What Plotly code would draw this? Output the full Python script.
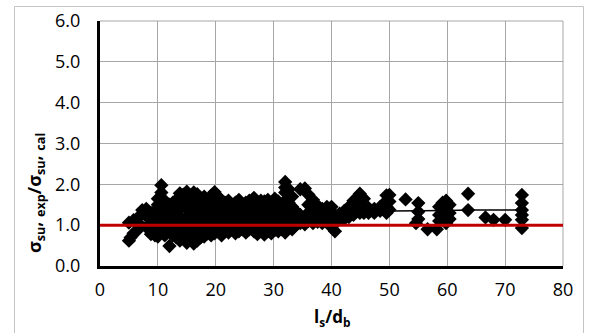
import plotly.graph_objects as go

# ---- data ----
ls_db = [
    5.0, 5.0,
    5.3,
    5.8, 5.8,
    6.5,
    7.0, 7.0,
    7.3,
    8.0, 8.0, 8.0,
    8.8, 8.8, 8.8,
    9.5, 9.5, 9.5, 9.5,
    10.0, 10.0, 10.0, 10.0, 10.0, 10.0,
    10.6, 10.6, 10.6, 10.6, 10.6, 10.6,
    11.2, 11.2, 11.2, 11.2, 11.2,
    12.0, 12.0, 12.0, 12.0, 12.0,
    12.6, 12.6, 12.6, 12.6, 12.6,
    13.2, 13.2, 13.2, 13.2, 13.2, 13.2,
    13.8, 13.8, 13.8, 13.8, 13.8, 13.8, 13.8,
    14.4, 14.4, 14.4, 14.4,
    15.0, 15.0, 15.0, 15.0, 15.0, 15.0, 15.0,
    15.6, 15.6, 15.6, 15.6, 15.6,
    16.2, 16.2, 16.2, 16.2, 16.2, 16.2, 16.2,
    16.8, 16.8, 16.8, 16.8, 16.8, 16.8,
    17.4, 17.4, 17.4, 17.4, 17.4,
    18.0, 18.0, 18.0, 18.0, 18.0, 18.0,
    18.6, 18.6, 18.6, 18.6,
    19.2, 19.2, 19.2, 19.2, 19.2, 19.2,
    19.8, 19.8, 19.8, 19.8, 19.8, 19.8,
    20.4, 20.4, 20.4, 20.4,
    21.0, 21.0, 21.0, 21.0, 21.0, 21.0,
    21.6, 21.6, 21.6, 21.6,
    22.2, 22.2, 22.2, 22.2, 22.2,
    22.8, 22.8, 22.8, 22.8,
    23.4, 23.4, 23.4, 23.4, 23.4,
    24.0, 24.0, 24.0, 24.0, 24.0,
    24.6, 24.6, 24.6, 24.6,
    25.2, 25.2, 25.2, 25.2, 25.2,
    25.8, 25.8, 25.8, 25.8, 25.8,
    26.6, 26.6, 26.6, 26.6, 26.6,
    27.2, 27.2, 27.2, 27.2, 27.2,
    27.8, 27.8, 27.8, 27.8, 27.8,
    28.4, 28.4, 28.4, 28.4, 28.4,
    29.0, 29.0, 29.0, 29.0, 29.0,
    29.6, 29.6, 29.6, 29.6, 29.6,
    30.2, 30.2, 30.2, 30.2, 30.2,
    30.8, 30.8, 30.8, 30.8, 30.8,
    31.4, 31.4, 31.4, 31.4,
    32.0, 32.0, 32.0, 32.0, 32.0, 32.0, 32.0, 32.0,
    32.6, 32.6, 32.6, 32.6, 32.6, 32.6,
    33.2, 33.2, 33.2, 33.2, 33.2,
    33.8, 33.8, 33.8,
    34.6, 34.6, 34.6,
    35.4, 35.4, 35.4,
    36.0, 36.0, 36.0, 36.0,
    36.8, 36.8, 36.8, 36.8,
    37.6, 37.6, 37.6,
    38.4, 38.4, 38.4,
    39.2, 39.2, 39.2,
    40.0, 40.0, 40.0, 40.0,
    40.6, 40.6, 40.6,
    41.4, 41.4,
    42.2, 42.2, 42.2,
    43.0, 43.0, 43.0,
    43.8, 43.8, 43.8,
    44.9, 44.9, 44.9, 44.9,
    45.6, 45.6, 45.6,
    46.4, 46.4,
    47.4, 47.4,
    48.4, 48.4,
    49.5, 49.5, 49.5, 49.5,
    50.0, 50.0, 50.0,
    52.8,
    54.6,
    55.0, 55.0, 55.0,
    56.6,
    58.2,
    58.6, 58.6, 58.6,
    59.2, 59.2, 59.2,
    59.8, 59.8, 59.8, 59.8,
    60.4, 60.4, 60.4,
    63.6, 63.6,
    66.6,
    68.0,
    70.0,
    72.9, 72.9, 72.9, 72.9, 72.9, 72.9,
]

ratio = [
    0.62, 1.06,
    0.70,
    0.80, 1.12,
    0.88,
    1.00, 1.25,
    1.37,
    0.95, 1.22, 1.40,
    0.78, 1.05, 1.30,
    0.75, 0.95, 1.15, 1.35,
    0.72, 0.90, 1.10, 1.30, 1.50, 1.65,
    1.98, 1.80, 1.62, 1.40, 1.15, 0.85,
    0.75, 0.95, 1.25, 1.45, 1.60,
    0.49, 0.90, 1.10, 1.30, 1.50,
    0.75, 1.00, 1.20, 1.40, 1.55,
    0.70, 0.85, 1.05, 1.25, 1.45, 1.62,
    0.62, 0.80, 1.00, 1.20, 1.40, 1.60, 1.78,
    0.90, 1.10, 1.50, 1.75,
    0.57, 0.75, 1.00, 1.20, 1.40, 1.60, 1.82,
    0.65, 0.85, 1.10, 1.30, 1.70,
    0.55, 0.72, 0.95, 1.15, 1.35, 1.50, 1.80,
    0.62, 0.80, 1.05, 1.25, 1.60, 1.76,
    0.70, 0.90, 1.30, 1.42, 1.65,
    0.72, 0.95, 1.15, 1.35, 1.50, 1.70,
    0.80, 1.05, 1.25, 1.60,
    0.75, 0.90, 1.10, 1.30, 1.45, 1.72,
    0.80, 1.00, 1.20, 1.40, 1.60, 1.81,
    0.90, 1.10, 1.30, 1.70,
    0.75, 0.85, 1.05, 1.25, 1.45, 1.60,
    0.95, 1.15, 1.35, 1.55,
    0.82, 1.00, 1.20, 1.40, 1.60,
    0.90, 1.10, 1.30, 1.50,
    0.80, 0.95, 1.15, 1.35, 1.55,
    0.85, 1.05, 1.25, 1.45, 1.62,
    0.90, 1.10, 1.30, 1.50,
    0.82, 1.00, 1.20, 1.40, 1.55,
    0.90, 1.10, 1.30, 1.50, 1.60,
    0.85, 1.05, 1.25, 1.45, 1.67,
    0.78, 0.95, 1.15, 1.35, 1.55,
    0.88, 1.08, 1.28, 1.48, 1.60,
    0.77, 0.98, 1.18, 1.38, 1.58,
    0.85, 1.05, 1.25, 1.45, 1.62,
    0.80, 0.95, 1.15, 1.35, 1.55,
    0.88, 1.08, 1.28, 1.48, 1.65,
    0.85, 1.00, 1.20, 1.40, 1.58,
    0.90, 1.10, 1.30, 1.50,
    0.82, 1.00, 1.20, 1.40, 1.60, 1.80, 1.92, 2.06,
    0.95, 1.15, 1.35, 1.55, 1.75, 1.88,
    0.90, 1.05, 1.25, 1.45, 1.70,
    1.00, 1.20, 1.35,
    1.05, 1.25, 1.88,
    1.02, 1.22, 1.90,
    1.10, 1.30, 1.50, 1.75,
    1.05, 1.25, 1.45, 1.62,
    1.08, 1.28, 1.48,
    1.05, 1.20, 1.40,
    1.10, 1.25, 1.45,
    0.95, 1.15, 1.30, 1.45,
    0.85, 1.05, 1.25,
    1.15, 1.28,
    1.15, 1.25, 1.35,
    1.20, 1.30, 1.45,
    1.25, 1.40, 1.60,
    1.30, 1.45, 1.62, 1.77,
    1.30, 1.45, 1.65,
    1.30, 1.42,
    1.30, 1.40,
    1.35, 1.45,
    1.30, 1.45, 1.60, 1.73,
    1.38, 1.58, 1.74,
    1.63,
    1.05,
    1.15, 1.33, 1.54,
    0.90,
    0.90,
    1.10, 1.25, 1.45,
    1.15, 1.35, 1.55,
    1.05, 1.20, 1.40, 1.60,
    1.15, 1.30, 1.50,
    1.37, 1.77,
    1.19,
    1.13,
    1.13,
    0.93, 1.13, 1.25, 1.37, 1.54, 1.74,
]

trend_x = [50.5, 55, 60, 64, 73]
trend_y = [1.35, 1.35, 1.36, 1.37, 1.37]

ref_x = [0, 80.5]
ref_y = [1.0, 1.0]

x_ticks = [0, 10, 20, 30, 40, 50, 60, 70, 80]
y_ticks = [0, 1, 2, 3, 4, 5, 6]

fig = go.Figure()
fig.add_trace(go.Scatter(x=trend_x, y=trend_y, mode="lines",
                         line=dict(color="black", width=1.5), showlegend=False))
fig.add_trace(go.Scatter(x=ls_db, y=ratio, mode="markers",
                         marker=dict(symbol="diamond", size=11, color="black"),
                         showlegend=False))
fig.add_trace(go.Scatter(x=ref_x, y=ref_y, mode="lines",
                         line=dict(color="#C00000", width=3), showlegend=False,
                         cliponaxis=False))

font_family = "Open Sans, Liberation Sans, sans-serif"

# the page's body margin is removed (post_script), so the figure fills the window
W, H = 589, 333
L, R, T, B = 100, 26, 21, 67
pw = W - L - R   # plot width (463)
ph = H - T - B   # plot height (245)


def px_x(px):
    return (px - L) / pw


def px_y(py):
    return (H - B - py) / ph


border = dict(color="#C4C4C4", width=1)
bl, br, bt, bb = px_x(14.5), px_x(583.5), px_y(6.5), px_y(340)

fig.update_layout(
    width=W, height=H,
    margin=dict(l=L, r=R, t=T, b=B, autoexpand=False),
    paper_bgcolor="white", plot_bgcolor="white",
    font=dict(family=font_family, size=18, color="black"),
    xaxis=dict(range=[0, 80], tickvals=x_ticks, ticktext=[str(v) for v in x_ticks],
               showgrid=True, gridcolor="#A6A6A6", gridwidth=1,
               zeroline=False, showline=True, linecolor="black", linewidth=3,
               ticks="", ticklabelstandoff=5, fixedrange=True, automargin=False),
    yaxis=dict(range=[0, 6], tickvals=y_ticks, ticktext=[f"{v:.1f}" for v in y_ticks],
               showgrid=True, gridcolor="#A6A6A6", gridwidth=1,
               zeroline=False, showline=True, linecolor="black", linewidth=3,
               ticks="", ticklabelstandoff=13, fixedrange=True, automargin=False),
    shapes=[
        # outer chart border
        dict(type="rect", xref="paper", yref="paper", x0=bl, x1=br, y0=bb, y1=bt,
             line=border, fillcolor="rgba(0,0,0,0)", layer="above"),
        # top and right gridlines at range edges
        dict(type="line", xref="paper", yref="paper", x0=0, x1=1, y0=1, y1=1,
             line=dict(color="#A6A6A6", width=1), layer="below"),
        dict(type="line", xref="paper", yref="paper", x0=1, x1=1, y0=0, y1=1,
             line=dict(color="#A6A6A6", width=1), layer="below"),
    ],
    annotations=[
        dict(text="<b>l<sub>s</sub>/d<sub>b</sub></b>", xref="paper", yref="paper",
             x=0.5, y=px_y(318), showarrow=False,
             font=dict(family=font_family, size=17, color="black"),
             xanchor="center", yanchor="middle"),
        dict(text="<b>σ<sub>su</sub>, <sub>exp</sub>/σ<sub>su</sub>, <sub>cal</sub></b>",
             xref="paper", yref="paper",
             x=px_x(35), y=px_y(193), showarrow=False, textangle=-90,
             font=dict(family=font_family, size=18, color="black"),
             xanchor="center", yanchor="middle"),
    ],
)

fig.write_html(
    "out.html",
    config={"displayModeBar": False, "staticPlot": True},
    post_script="document.body.style.margin='0';document.body.style.overflow='hidden';",
)
